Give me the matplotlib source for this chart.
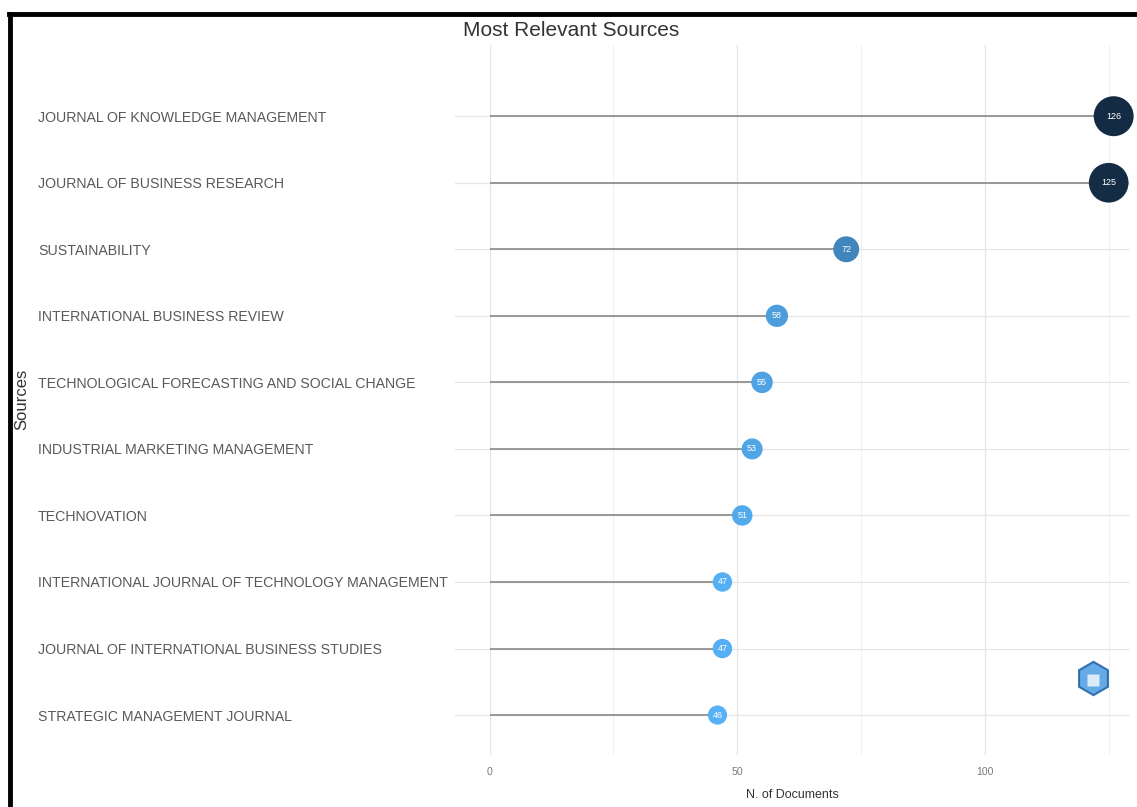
import numpy as np
import matplotlib.pyplot as plt
from matplotlib.colors import LinearSegmentedColormap
from matplotlib.lines import Line2D

plt.rcParams['font.family'] = ['Liberation Sans', 'DejaVu Sans']

# data (top to bottom as in the chart)
sources = [
    'JOURNAL OF KNOWLEDGE MANAGEMENT',
    'JOURNAL OF BUSINESS RESEARCH',
    'SUSTAINABILITY',
    'INTERNATIONAL BUSINESS REVIEW',
    'TECHNOLOGICAL FORECASTING AND SOCIAL CHANGE',
    'INDUSTRIAL MARKETING MANAGEMENT',
    'TECHNOVATION',
    'INTERNATIONAL JOURNAL OF TECHNOLOGY MANAGEMENT',
    'JOURNAL OF INTERNATIONAL BUSINESS STUDIES',
    'STRATEGIC MANAGEMENT JOURNAL',
]
n_docs = [126, 125, 72, 58, 55, 53, 51, 47, 47, 46]

W, H = 1137, 807
fig = plt.figure(figsize=(W / 100, H / 100), dpi=100)
ax = fig.add_axes([455 / W, 1 - 755 / H, (1130 - 455) / W, (755 - 45) / H])

y = np.arange(len(sources))[::-1]
vals = np.array(n_docs)

cmap = LinearSegmentedColormap.from_list('gg', ['#56B1F7', '#132B43'])
norm = plt.Normalize(vals.min(), vals.max())
colors = cmap(norm(vals))
diam = 5.2 + 0.187 * vals          # marker diameter in points
sizes = diam ** 2

ax.hlines(y, 0, vals, color='#7f7f7f', lw=1.1, zorder=2)
ax.scatter(vals, y, s=sizes, c=colors, zorder=3, edgecolors='none', clip_on=False)
for v, yy in zip(vals, y):
    ax.text(v, yy, str(v), color='white', fontsize=6.5, ha='center', va='center', zorder=4)

ax.set_xlim(-7, 129.3)
ax.set_ylim(-0.6, 10.07)
ax.set_xticks([0, 50, 100])
ax.set_xticks([25, 75, 125], minor=True)
ax.set_yticks(y)
ax.set_yticklabels(sources, ha='left', fontsize=10.2, color='#595959')
ax.tick_params(axis='y', length=0, pad=(455 - 38) * 0.72)
ax.tick_params(axis='x', which='both', length=0, pad=(773 - 755) * 0.72 - 4,
               labelsize=7.6, labelcolor='#7a7a7a')
ax.grid(True, which='major', color='#e6e6e6', lw=0.9)
ax.grid(True, which='minor', axis='x', color='#f0f0f0', lw=0.7)
ax.set_axisbelow(True)
for s in ax.spines.values():
    s.set_visible(False)

fig.text(571 / W, 1 - 30 / H, 'Most Relevant Sources', fontsize=15, color='#333333',
         ha='center', va='center')
fig.text(792 / W, 1 - 795 / H, 'N. of Documents', fontsize=9, color='#333333',
         ha='center', va='center')
fig.text(22 / W, 1 - 399 / H, 'Sources', fontsize=12, color='#333333',
         ha='center', va='center', rotation=90)

# photo frame edges
fig.add_artist(Line2D([9 / W, 1], [1 - 14 / H, 1 - 14 / H], color='black', lw=3.5))
fig.add_artist(Line2D([10 / W, 10 / W], [0, 1 - 14 / H], color='black', lw=3.5))

# small logo mark
fig.add_artist(Line2D([1093 / W], [1 - 678 / H], marker='h', markersize=24,
                      markerfacecolor='#4a9be0', markeredgecolor='#1f5fa8',
                      markeredgewidth=1.5, transform=fig.transFigure, alpha=0.85))
fig.add_artist(Line2D([1093 / W], [1 - 680 / H], marker='s', markersize=9,
                      markerfacecolor='#d8ecfb', markeredgecolor='none',
                      transform=fig.transFigure))

fig.savefig('out.png', dpi=100, facecolor='white')
